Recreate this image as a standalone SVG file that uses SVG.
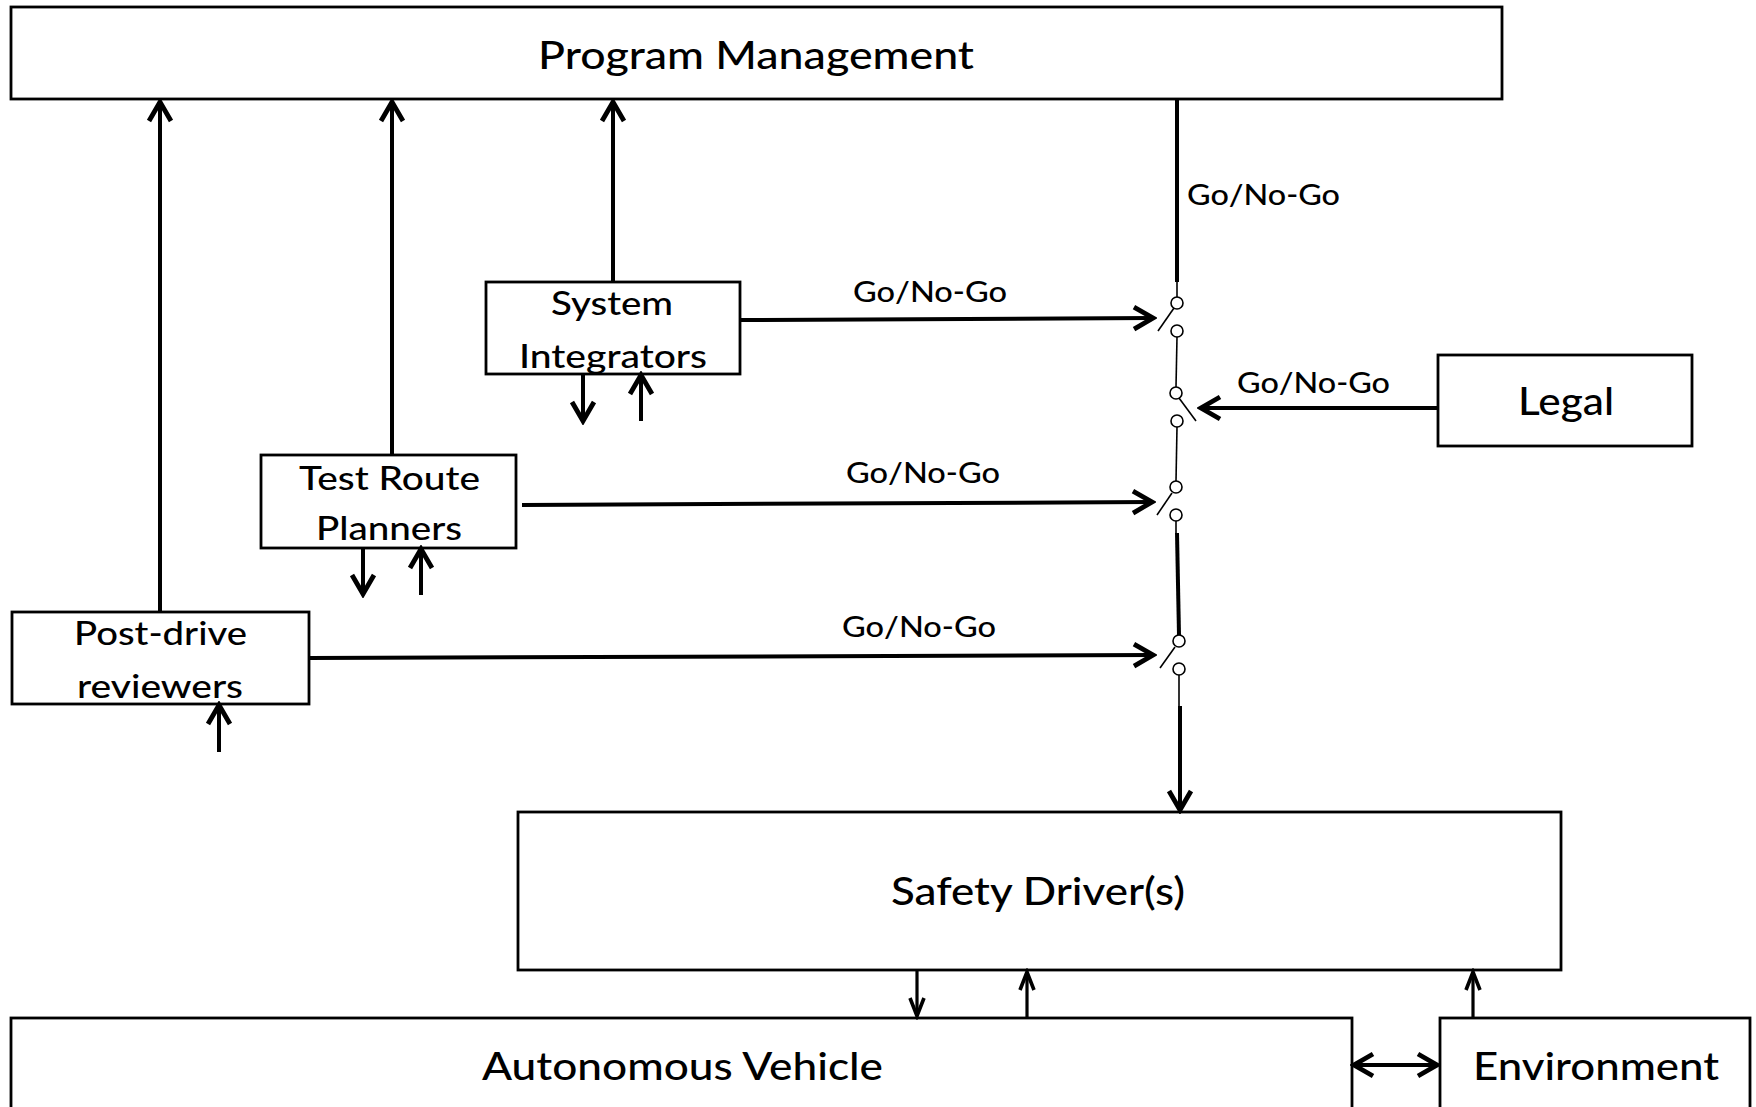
<svg xmlns="http://www.w3.org/2000/svg" width="1756" height="1107" viewBox="0 0 1756 1107">
  <style>
    .box { fill: #ffffff; stroke: #000000; stroke-width: 2.8; }
    .t { font-family: Lato, "Open Sans", "Liberation Sans", sans-serif; fill: #000000; font-weight: 500; }
    .big { font-size: 39px; }
    .mid { font-size: 32px; }
    .lbl { font-size: 29px; }
    .wire { fill: none; stroke: #000000; stroke-width: 4; }
    .thin { fill: none; stroke: #000000; stroke-width: 1.6; }
    .arr { fill: none; stroke: #000000; stroke-width: 4; marker-end: url(#head); }
    .arrs { fill: none; stroke: #000000; stroke-width: 3.2; marker-end: url(#headS); }
    .node { fill: #ffffff; stroke: #000000; stroke-width: 1.6; }
  </style>
  <defs>
    <marker id="head" markerUnits="userSpaceOnUse" viewBox="-24 -14 28 28" refX="0" refY="0" markerWidth="28" markerHeight="28" orient="auto-start-reverse">
      <path d="M-19,-11 L0,0 L-19,11" fill="none" stroke="#000" stroke-width="4.8"/>
    </marker>
    <marker id="headS" markerUnits="userSpaceOnUse" viewBox="-22 -10 26 20" refX="0" refY="0" markerWidth="26" markerHeight="20" orient="auto-start-reverse">
      <path d="M-18,-7 L0,0 L-18,7" fill="none" stroke="#000" stroke-width="3.6"/>
    </marker>
  </defs>

  <rect width="1756" height="1107" fill="#ffffff"/>

  <!-- nodes -->
  <g id="program-management">
    <rect class="box" x="11" y="7" width="1491" height="92"/>
    <text class="t big" x="538" y="69" textLength="436" lengthAdjust="spacingAndGlyphs">Program Management</text>
  </g>
  <g id="system-integrators">
    <rect class="box" x="486" y="282" width="254" height="92"/>
    <text class="t mid" x="551" y="315" textLength="122" lengthAdjust="spacingAndGlyphs">System</text>
    <text class="t mid" x="519" y="368" textLength="188" lengthAdjust="spacingAndGlyphs">Integrators</text>
  </g>
  <g id="test-route-planners">
    <rect class="box" x="261" y="455" width="255" height="93"/>
    <text class="t mid" x="299" y="490" textLength="181" lengthAdjust="spacingAndGlyphs">Test Route</text>
    <text class="t mid" x="316" y="540" textLength="146" lengthAdjust="spacingAndGlyphs">Planners</text>
  </g>
  <g id="post-drive-reviewers">
    <rect class="box" x="12" y="612" width="297" height="92"/>
    <text class="t mid" x="74" y="645" textLength="173" lengthAdjust="spacingAndGlyphs">Post-drive</text>
    <text class="t mid" x="77" y="698" textLength="166" lengthAdjust="spacingAndGlyphs">reviewers</text>
  </g>
  <g id="legal">
    <rect class="box" x="1438" y="355" width="254" height="91"/>
    <text class="t big" x="1518" y="415" textLength="96" lengthAdjust="spacingAndGlyphs">Legal</text>
  </g>
  <g id="safety-drivers">
    <rect class="box" x="518" y="812" width="1043" height="158"/>
    <text class="t big" x="891" y="905" textLength="294" lengthAdjust="spacingAndGlyphs">Safety Driver(s)</text>
  </g>
  <g id="autonomous-vehicle">
    <rect class="box" x="11" y="1018" width="1341" height="110"/>
    <text class="t big" x="482" y="1080" textLength="401" lengthAdjust="spacingAndGlyphs">Autonomous Vehicle</text>
  </g>
  <g id="environment">
    <rect class="box" x="1440" y="1018" width="310" height="110"/>
    <text class="t big" x="1473" y="1080" textLength="246" lengthAdjust="spacingAndGlyphs">Environment</text>
  </g>

  <!-- connectors -->
  <g id="connectors">
    <!-- reports up to program management -->
    <line class="arr" x1="160" y1="612" x2="160" y2="102"/>
    <line class="arr" x1="392" y1="455" x2="392" y2="102"/>
    <line class="arr" x1="613" y1="282" x2="613" y2="102"/>

    <!-- local in/out arrows under the small boxes -->
    <line class="arr" x1="583" y1="374" x2="583" y2="421"/>
    <line class="arr" x1="641" y1="421" x2="641" y2="375"/>
    <line class="arr" x1="363" y1="548" x2="363" y2="594"/>
    <line class="arr" x1="421" y1="595" x2="421" y2="549"/>
    <line class="arr" x1="219" y1="752" x2="219" y2="705"/>

    <!-- go/no-go commands into the switch chain -->
    <line class="arr" x1="740" y1="320" x2="1153" y2="318"/>
    <line class="arr" x1="522" y1="505" x2="1152" y2="502"/>
    <line class="arr" x1="309" y1="658" x2="1153" y2="655"/>
    <line class="arr" x1="1438" y1="408" x2="1201" y2="408"/>

    <!-- switch chain from program management to safety drivers -->
    <line class="wire" x1="1177" y1="99" x2="1177" y2="282"/>
    <line class="thin" x1="1177" y1="282" x2="1177" y2="297"/>

    <circle class="node" cx="1177" cy="303" r="6"/>
    <circle class="node" cx="1177" cy="331" r="6"/>
    <line class="thin" x1="1158" y1="331" x2="1174" y2="308"/>
    <line class="thin" x1="1177" y1="337" x2="1176" y2="387"/>

    <circle class="node" cx="1176" cy="393" r="6"/>
    <circle class="node" cx="1177" cy="421" r="6"/>
    <line class="thin" x1="1179" y1="398" x2="1196" y2="421"/>
    <line class="thin" x1="1177" y1="427" x2="1176" y2="481"/>

    <circle class="node" cx="1176" cy="487" r="6"/>
    <circle class="node" cx="1176" cy="515" r="6"/>
    <line class="thin" x1="1157" y1="515" x2="1172" y2="493"/>
    <line class="thin" x1="1176" y1="521" x2="1176" y2="534"/>
    <line class="wire" x1="1177" y1="533" x2="1179" y2="635"/>

    <circle class="node" cx="1179" cy="641" r="6"/>
    <circle class="node" cx="1179" cy="669" r="6"/>
    <line class="thin" x1="1160" y1="668" x2="1175" y2="647"/>
    <line class="thin" x1="1179" y1="675" x2="1179" y2="706"/>
    <line class="arr" x1="1180" y1="706" x2="1180" y2="810"/>

    <!-- safety drivers, vehicle and environment -->
    <line class="arrs" x1="917" y1="970" x2="917" y2="1016"/>
    <line class="arrs" x1="1027" y1="1018" x2="1027" y2="972"/>
    <line class="arrs" x1="1473" y1="1018" x2="1473" y2="972"/>
    <line class="arr" x1="1354" y1="1065" x2="1437" y2="1065" style="marker-start: url(#head)"/>
  </g>

  <!-- go/no-go labels -->
  <g id="labels">
    <text class="t lbl" x="1187" y="205" textLength="153" lengthAdjust="spacingAndGlyphs">Go/No-Go</text>
    <text class="t lbl" x="853" y="302" textLength="154" lengthAdjust="spacingAndGlyphs">Go/No-Go</text>
    <text class="t lbl" x="1237" y="393" textLength="153" lengthAdjust="spacingAndGlyphs">Go/No-Go</text>
    <text class="t lbl" x="846" y="483" textLength="154" lengthAdjust="spacingAndGlyphs">Go/No-Go</text>
    <text class="t lbl" x="842" y="637" textLength="154" lengthAdjust="spacingAndGlyphs">Go/No-Go</text>
  </g>
</svg>
